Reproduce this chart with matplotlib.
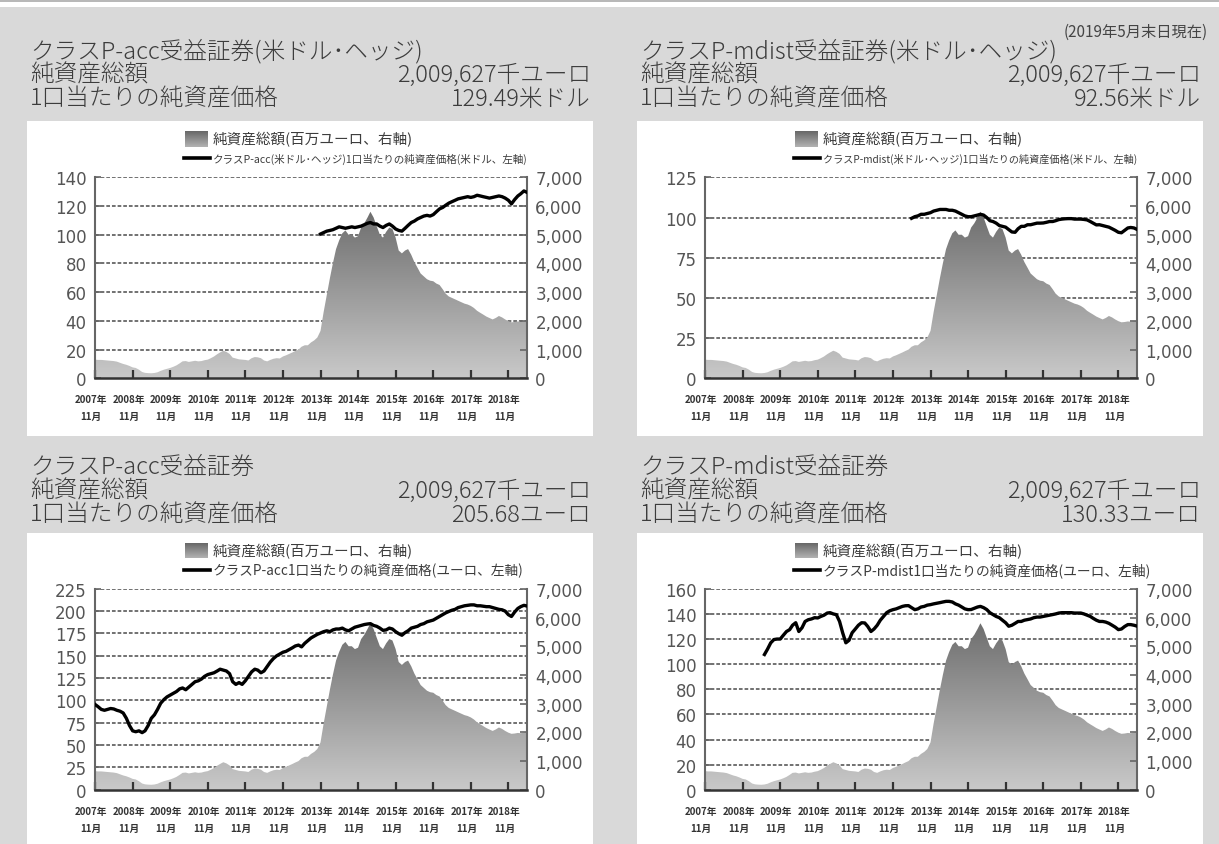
import numpy as np
import pandas as pd
import matplotlib
matplotlib.use("Agg")
import matplotlib.pyplot as plt
import matplotlib.dates as mdates
from matplotlib.patches import Rectangle
from matplotlib.lines import Line2D
from matplotlib.colors import LinearSegmentedColormap
from matplotlib.transforms import blended_transform_factory, ScaledTranslation

plt.rcParams['font.family'] = ['Noto Sans CJK JP', 'DejaVu Sans']

# ---------------------------------------------------------------------------
# data (monthly)
# ---------------------------------------------------------------------------
# fund total net assets, million EUR, Nov 2007 .. May 2019
total_nav = [
    650, 640, 640, 630, 620, 610, 600, 580, 540, 500, 470, 430,
    380, 360, 300, 220, 190, 180, 175, 185, 210, 260, 300, 330,
    360, 400, 450, 520, 590, 600, 570, 590, 610, 590, 600, 630,
    650, 700, 760, 840, 900, 960, 920, 850, 720, 690, 660, 650,
    640, 620, 700, 740, 730, 700, 620, 590, 640, 680, 700, 690,
    760, 800, 850, 900, 950, 1000, 1100, 1150, 1150, 1250, 1320, 1420,
    1650, 2300, 2900, 3500, 4000, 4500, 4800, 5050, 5150, 5000, 5000, 4900,
    4950, 5250, 5400, 5600, 5800, 5600, 5300, 5000, 4900, 5100, 5250, 5200,
    4900, 4450, 4350, 4450, 4500, 4300, 4050, 3850, 3650, 3550, 3450, 3400,
    3380, 3300, 3250, 3100, 2950, 2850, 2800, 2750, 2700, 2650, 2600, 2570,
    2520, 2450, 2350, 2280, 2220, 2150, 2100, 2050, 2100, 2170, 2120, 2050,
    1990, 1950, 1960, 1980, 1970, 1990, 2010,
]
nav_start = '2007-11'

# class P-acc (USD hedged), USD, from Nov 2013
acc_usd = [
    100.5, 101.5, 102.5, 103, 103.5, 104.5, 105.5, 105, 104.5, 105, 105.5, 105,
    105.5, 106, 107, 108, 108.5, 107.5, 107.5, 106, 105, 106.5, 107.5, 106,
    104, 103, 102.5, 104.5, 106.5, 108.5, 109.5, 111, 112, 113, 113.5, 113,
    114, 116, 118, 119, 120.5, 122, 123, 124, 125, 125.5, 126, 126.5,
    126, 126.5, 127.5, 127, 126.5, 126, 125.5, 126, 126.5, 127, 126.5, 125.5,
    124, 121.5, 124.5, 127, 128.5, 130.5, 129.5,
]
acc_usd_start = '2013-11'

# class P-mdist (USD hedged), USD, from May 2013
mdist_usd = [
    99.5, 100.5, 101, 102, 102, 102.5,
    103, 104, 104.5, 105, 105, 105, 104.5, 104.5, 104, 103, 102, 101,
    100.5, 100.5, 101, 101.5, 102, 101.5, 100, 98, 97.5, 96.5, 95, 94.5,
    94, 92.5, 91, 90.8, 93, 94.5, 94.5, 95.5, 95.5, 96, 96.5, 96.5,
    96.6, 97, 97.5, 97.5, 98, 98.7, 99, 99.2, 99.3, 99.3, 99, 99,
    99, 98.8, 98.5, 97.5, 96.5, 95.4, 95.5, 95, 94.5, 94, 93, 92,
    90.8, 90.5, 92, 93.5, 93.8, 93.5, 92.6,
]
mdist_usd_start = '2013-05'

# class P-acc, EUR, from Nov 2007
acc_eur = [
    95.6, 93, 90, 89, 90, 91, 90.5, 89, 88, 86, 80, 72,
    66, 65, 66, 64, 66, 72, 80, 84, 90, 97, 101, 104,
    106, 108, 110, 113, 114, 112, 115, 118, 121, 122, 124, 127,
    129, 130, 131, 133, 135, 134, 133, 130, 121, 118, 120, 118,
    122, 127, 132, 135, 134, 131, 133, 138, 143, 147, 150, 152,
    154, 155, 157, 159, 161, 162, 160, 164, 167, 170, 172, 174,
    175.5, 177, 178, 177, 179, 180, 180, 181, 179, 178, 180, 182,
    183, 184, 185, 185.6, 186, 184, 183, 181, 178.5, 179, 181, 180,
    177, 174.8, 173, 176, 178, 181, 182, 183, 185, 186, 188, 189,
    190, 192, 194, 196, 198, 199.6, 201, 202, 204, 205, 206, 206.5,
    207, 207, 206, 206, 205.5, 205, 205, 204, 203, 202, 201.5, 200,
    196, 194, 199, 203, 205, 206.5, 205.7,
]
acc_eur_start = '2007-11'

# class P-mdist, EUR, from Jun 2009
mdist_eur = [
    107.7, 112, 117, 119.6, 120,
    120, 123, 126, 127.5, 131, 133, 126, 129, 134, 135.4, 136, 137,
    136.8, 138, 139, 140.7, 141, 140, 139.4, 134, 125, 117, 119, 125,
    128, 131, 133, 132.8, 130, 126, 128, 131, 135, 138, 141, 142.5,
    143.4, 144, 145, 146, 146.5, 146.6, 145, 143.4, 144, 145.5, 146, 147,
    147.4, 148, 148.5, 149, 149.5, 150, 150, 149.5, 148, 147, 145.5, 144,
    143.4, 143.5, 144.5, 145.5, 146, 145, 143.5, 141, 139.5, 138, 137, 135,
    133, 130.2, 131, 132.5, 134, 134, 135, 135.5, 136, 137, 137.5, 137.5,
    138, 138.5, 139, 139.5, 140, 140.7, 141, 141, 141, 141, 140.7, 140.7,
    140.7, 140, 139, 138, 136.5, 135, 134, 134, 133.5, 132.5, 131, 129.5,
    127.5, 128, 130, 131.5, 131.5, 131, 130.3,
]
mdist_eur_start = '2009-06'

tick_years = list(range(2007, 2019))
right_ticks = [0, 1000, 2000, 3000, 4000, 5000, 6000, 7000]

titles = ['クラスP-acc受益証券(米ドル･ヘッジ)', 'クラスP-mdist受益証券(米ドル･ヘッジ)',
          'クラスP-acc受益証券', 'クラスP-mdist受益証券']
nav_text = '2,009,627千ユーロ'
price_texts = ['129.49米ドル', '92.56米ドル', '205.68ユーロ', '130.33ユーロ']
line_labels = ['クラスP-acc(米ドル･ヘッジ)1口当たりの純資産価格(米ドル、左軸)',
               'クラスP-mdist(米ドル･ヘッジ)1口当たりの純資産価格(米ドル、左軸)',
               'クラスP-acc1口当たりの純資産価格(ユーロ、左軸)',
               'クラスP-mdist1口当たりの純資産価格(ユーロ、左軸)']
line_label_sizes = [7.6, 7.3, 9.8, 9.9]
left_ticks = [list(range(0, 141, 20)), list(range(0, 126, 25)),
              list(range(0, 226, 25)), list(range(0, 161, 20))]
series = [(acc_usd, acc_usd_start), (mdist_usd, mdist_usd_start),
          (acc_eur, acc_eur_start), (mdist_eur, mdist_eur_start)]

# ---------------------------------------------------------------------------
W, H = 1219, 845
fig = plt.figure(figsize=(W / 100, H / 100), dpi=100)
fig.patch.set_facecolor('#d9d9d9')


def fx(x):
    return x / W


def fy(y):
    return 1 - y / H


def box(x0, y0, x1, y1, color):
    fig.add_artist(Rectangle((fx(x0), fy(y1)), fx(x1) - fx(x0), fy(y0) - fy(y1),
                             transform=fig.transFigure, facecolor=color,
                             edgecolor='none', zorder=0))


# top white strip
box(0, 0, W, 8, 'white')
fig.add_artist(Line2D([0, 1], [fy(1.5), fy(1.5)], transform=fig.transFigure,
                      color='#aaaaaa', lw=1.2))
fig.text(fx(1208), fy(32), '(2019年5月末日現在)', ha='right', va='center',
         fontsize=11, color='#444444')

cmap = LinearSegmentedColormap.from_list('nav', ['#c9c9c9', '#5c5c5c'])
txt_color = '#3c3c3c'

nav_dates = pd.period_range(nav_start, periods=len(total_nav), freq='M').to_timestamp()
x_lo = mdates.date2num(pd.Timestamp('2007-11-01'))
x_hi = mdates.date2num(pd.Timestamp('2019-05-01'))

for i in range(4):
    dx = 610 * (i % 2)
    dy = 411.5 * (i // 2)
    bottom_row = i >= 2

    # white panel box
    box(27 + dx, 122 + dy, 593 + dx, (H + 5) if bottom_row else 437 + dy, 'white')

    # header text
    ty = [467, 491, 515] if bottom_row else [52, 75, 99]
    kw = dict(fontsize=17, color=txt_color, va='center', fontweight='light')
    fig.text(fx(30 + dx), fy(ty[0]), titles[i], ha='left', **kw)
    fig.text(fx(30 + dx), fy(ty[1]), '純資産総額', ha='left', **kw)
    fig.text(fx(591 + dx), fy(ty[1]), nav_text, ha='right', **kw)
    fig.text(fx(30 + dx), fy(ty[2]), '1口当たりの純資産価格', ha='left', **kw)
    fig.text(fx(591 + dx), fy(ty[2]), price_texts[i], ha='right', **kw)

    # legend
    lax = fig.add_axes([fx(185 + dx), fy(148 + dy), fx(23), 16 / H])
    lax.imshow(np.linspace(1, 0, 32).reshape(-1, 1), cmap=cmap, aspect='auto',
               vmin=-0.3, vmax=1.1)
    lax.set_axis_off()
    fig.text(fx(213 + dx), fy(140 + dy), '純資産総額(百万ユーロ、右軸)', ha='left',
             va='center', fontsize=10.5, color=txt_color)
    fig.add_artist(Line2D([fx(184 + dx), fx(210 + dx)], [fy(159 + dy), fy(159 + dy)],
                          transform=fig.transFigure, color='black', lw=2.6))
    fig.text(fx(213 + dx), fy(159 + dy), line_labels[i], ha='left', va='center',
             fontsize=line_label_sizes[i], color=txt_color)

    # plot area
    rect = [fx(95 + dx), fy(379.3 + dy), fx(432), 201 / H]
    ax_r = fig.add_axes(rect, zorder=2)
    ax = fig.add_axes(rect, zorder=3)
    ax.patch.set_visible(False)

    ymax = left_ticks[i][-1]
    ax.set_ylim(0, ymax)
    ax_r.set_ylim(0, 7000)
    for a in (ax, ax_r):
        a.set_xlim(x_lo, x_hi)

    # dashed gridlines on the left scale, drawn below the area
    gtr = blended_transform_factory(ax_r.transAxes, ax.transData)
    for v in left_ticks[i][1:]:
        ax_r.add_line(Line2D([0, 1], [v, v], transform=gtr, color='#4a4a4a',
                             lw=1.1, ls=(0, (2.4, 1.3)), zorder=0.5))

    # gradient area (right axis)
    nd = mdates.date2num(nav_dates)
    poly = ax_r.fill_between(nd, total_nav, 0, facecolor='none', edgecolor='none')
    im = ax_r.imshow(np.linspace(0, 1, 256).reshape(-1, 1), cmap=cmap,
                     aspect='auto', origin='lower', extent=[x_lo, x_hi, 0, 7000],
                     zorder=1)
    im.set_clip_path(poly.get_paths()[0], transform=ax_r.transData)
    ax_r.set_xlim(x_lo, x_hi)
    ax_r.set_ylim(0, 7000)

    # price line (left axis)
    vals, start = series[i]
    d = pd.period_range(start, periods=len(vals), freq='M').to_timestamp()
    ax.plot(mdates.date2num(d), vals, color='black', lw=2.4, zorder=5,
            solid_joinstyle='round')

    # axes styling
    for a in (ax, ax_r):
        for s in a.spines.values():
            s.set_visible(False)
    ax.spines['left'].set_visible(True)
    ax.spines['left'].set_color('#666666')
    ax.spines['left'].set_linewidth(1.5)
    ax.spines['bottom'].set_visible(True)
    ax.spines['bottom'].set_color('#333333')
    ax.spines['bottom'].set_linewidth(1.8)
    ax_r.spines['right'].set_visible(True)
    ax_r.spines['right'].set_color('#666666')
    ax_r.spines['right'].set_linewidth(1.5)

    ax.set_yticks(left_ticks[i])
    ax.set_yticklabels([str(v) for v in left_ticks[i]])
    ax.tick_params(axis='y', direction='in', length=4, width=1.2, color='#666666',
                   labelsize=12, labelcolor='#555555', pad=6)
    for lab in ax.get_yticklabels():
        lab.set_family('DejaVu Sans')

    ax_r.yaxis.tick_right()
    ax_r.set_yticks(right_ticks)
    ax_r.set_yticklabels([f'{v:,}' for v in right_ticks])
    ax_r.tick_params(axis='y', direction='in', length=5, width=1.2, color='#666666',
                     labelsize=12, labelcolor='#555555', pad=6)
    for lab in ax_r.get_yticklabels():
        lab.set_family('DejaVu Sans')
    ax_r.set_xticks([])

    xt = mdates.date2num([pd.Timestamp(f'{y}-11-01') for y in tick_years])
    ax.set_xticks(xt)
    ax.set_xticklabels([f'{y}年\n11月' for y in tick_years], linespacing=1.85)
    ax.tick_params(axis='x', direction='in', length=6, width=1.6, color='#333333',
                   labelsize=7, labelcolor='#333333', pad=11.5)
    shift = ScaledTranslation(-4 / 100, 0, fig.dpi_scale_trans)
    for lab in ax.get_xticklabels():
        lab.set_fontweight('bold')
        lab.set_transform(lab.get_transform() + shift)

fig.savefig('out.png', dpi=100, facecolor=fig.get_facecolor())
